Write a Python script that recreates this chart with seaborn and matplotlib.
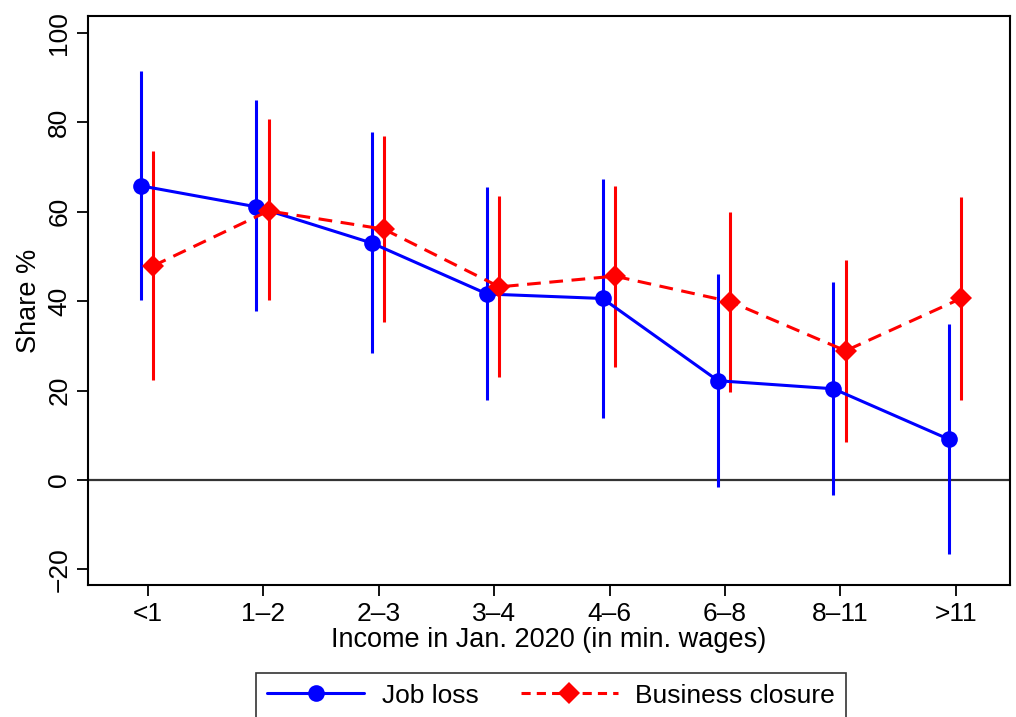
import numpy as np
import pandas as pd
import matplotlib
matplotlib.use("Agg")
import matplotlib.pyplot as plt
import seaborn as sns
from matplotlib.lines import Line2D

categories = ["<1", "1\u20132", "2\u20133", "3\u20134", "4\u20136", "6\u20138", "8\u201311", ">11"]
job_loss = [65.8, 61.1, 53.0, 41.6, 40.6, 22.2, 20.4, 9.1]
job_loss_lo = [40.3, 37.7, 28.3, 17.9, 13.9, -1.5, -3.4, -16.6]
job_loss_hi = [91.6, 85.0, 77.9, 65.5, 67.3, 46.1, 44.4, 34.9]
closure = [47.9, 60.2, 56.1, 43.2, 45.6, 39.9, 28.9, 40.6]
closure_lo = [22.4, 40.3, 35.4, 23.0, 25.2, 19.6, 8.4, 17.9]
closure_hi = [73.6, 80.8, 77.0, 63.6, 65.8, 60.0, 49.1, 63.2]
yticks = [-20, 0, 20, 40, 60, 80, 100]

sns.set_theme(style="white")
plt.rcParams['font.family'] = ['Liberation Sans', 'DejaVu Sans']
plt.rcParams['text.color'] = 'black'
plt.rcParams['axes.labelcolor'] = 'black'
plt.rcParams['xtick.color'] = 'black'
plt.rcParams['ytick.color'] = 'black'

fig = plt.figure(figsize=(10.16, 7.17), dpi=100)
ax = fig.add_axes([88/1016, 1 - 585/717, (1010-88)/1016, (585-16)/717])

idx = np.arange(len(categories))
off_b, off_r = -0.06, 0.045
df = pd.DataFrame({
    "x": np.concatenate([idx + off_b, idx + off_r]),
    "y": job_loss + closure,
    "series": ["Job loss"] * len(idx) + ["Business closure"] * len(idx),
})

LW = 2.2
ax.axhline(0, color="#333333", lw=1.6, zorder=1)
ax.vlines(idx + off_b, job_loss_lo, job_loss_hi, color="#0000ff", lw=LW, zorder=2)
ax.vlines(idx + off_r, closure_lo, closure_hi, color="#ff0000", lw=LW, zorder=2)

sns.lineplot(data=df[df.series == "Job loss"], x="x", y="y", ax=ax, color="#0000ff",
             lw=LW, marker="o", markersize=12, markeredgewidth=0, zorder=3, legend=False)
sns.lineplot(data=df[df.series == "Business closure"], x="x", y="y", ax=ax, color="#ff0000",
             lw=LW, marker="D", markersize=11.5, markeredgewidth=0, zorder=3, legend=False,
             linestyle=(0, (4.5, 2.8)))

ax.set_xlim(-0.52, 7.47)
ax.set_ylim(-23.5, 103.8)
ax.set_xticks(idx)
ax.set_xticklabels(categories, fontsize=19)
ax.set_yticks(yticks)
ax.set_yticklabels([("\u2212" + str(-v)) if v < 0 else str(v) for v in yticks],
                   fontsize=19, rotation=90, va="center")
ax.tick_params(axis="both", direction="out", length=8, width=1.3, color="black",
               bottom=True, left=True, pad=4)
ax.set_xlabel("Income in Jan. 2020 (in min. wages)", fontsize=19.5, labelpad=1)
ax.set_ylabel("Share %", fontsize=19.5, labelpad=4)
for s in ax.spines.values():
    s.set_color("black")
    s.set_linewidth(1.5)

handles = [
    Line2D([], [], color="#0000ff", lw=LW, marker="o", markersize=12, markeredgewidth=0),
    Line2D([], [], color="#ff0000", lw=LW, marker="D", markersize=11.5, markeredgewidth=0,
           linestyle=(0, (3, 2))),
]
fig.legend(handles, ["Job loss", "Business closure"], loc="upper center",
           bbox_to_anchor=(551/1016, 1 - 673/717), ncol=2, fontsize=19, frameon=True,
           fancybox=False, edgecolor="black", handlelength=3.7, columnspacing=1.6,
           borderpad=0.4, handletextpad=0.65, borderaxespad=0)
fig.legends[0].get_frame().set_linewidth(1.2)

fig.savefig("out.png", dpi=100, facecolor="white")
